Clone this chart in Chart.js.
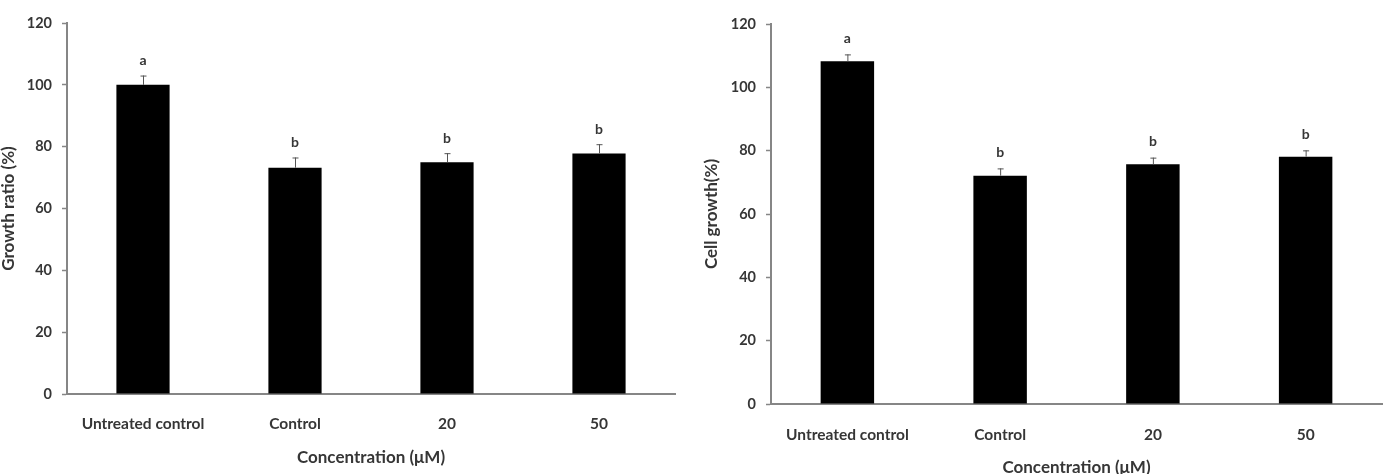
<!DOCTYPE html>
<html>
<head>
<meta charset="utf-8">
<script src="https://cdn.jsdelivr.net/npm/chart.js@4/dist/chart.umd.min.js"></script>
<style>
  html, body { margin: 0; padding: 0; background: #fff; }
  body { width: 1385px; height: 474px; position: relative; overflow: hidden; }
  canvas { position: absolute; top: 0; }
  #growthChart { left: 0; }
  #cellChart { left: 690px; }
</style>
</head>
<body>
<canvas id="growthChart" width="690" height="474"></canvas>
<canvas id="cellChart" width="695" height="474"></canvas>
<script>
"use strict";

const categories = ['Untreated control', 'Control', '20', '50'];

const growthRatio = [100, 73.2, 75, 77.8];
const growthRatioErr = [3, 3.3, 2.9, 3];
const growthLetters = ['a', 'b', 'b', 'b'];

const cellGrowth = [108.2, 72.1, 75.7, 78.1];
const cellGrowthErr = [2.2, 2.3, 2.1, 2];
const cellLetters = ['a', 'b', 'b', 'b'];

const yTicks = [0, 20, 40, 60, 80, 100, 120];

const textColor = '#363636';
const axisColor = '#868686';
const fontFamily = 'Lato, "Open Sans", sans-serif';

Chart.defaults.font.family = fontFamily;
Chart.defaults.color = textColor;

// error bars + significance letters on top of each bar
const errorBarPlugin = {
	id: 'errorBars',
	afterDatasetsDraw(chart, args, opts) {
		const ctx = chart.ctx;
		const meta = chart.getDatasetMeta(0);
		const yScale = chart.scales.y;
		const values = chart.data.datasets[0].data;
		ctx.save();
		meta.data.forEach((bar, i) => {
			const x = bar.x;
			const top = yScale.getPixelForValue(values[i] + opts.errors[i]);
			ctx.strokeStyle = '#555';
			ctx.lineWidth = 1;
			ctx.beginPath();
			ctx.moveTo(x + 0.5, bar.y);
			ctx.lineTo(x + 0.5, top);
			ctx.moveTo(x - 2.5, top + 0.5);
			ctx.lineTo(x + 3.5, top + 0.5);
			ctx.stroke();

			ctx.fillStyle = textColor;
			ctx.font = 'bold 14px ' + fontFamily;
			ctx.textAlign = 'center';
			ctx.textBaseline = 'middle';
			ctx.fillText(opts.letters[i], x, top - opts.letterGap);
		});
		ctx.restore();
	}
};

function makeChart(canvasId, values, errors, letters, yTitle, lay) {
	const ctx = document.getElementById(canvasId).getContext('2d');
	return new Chart(ctx, {
		type: 'bar',
		data: {
			labels: categories,
			datasets: [{
				data: values,
				backgroundColor: '#000',
				borderWidth: 0,
				barPercentage: 0.35,
				categoryPercentage: 1.0
			}]
		},
		options: {
			responsive: false,
			animation: false,
			layout: { padding: { top: lay.top, right: lay.right, bottom: 0, left: 0 } },
			plugins: {
				legend: { display: false },
				tooltip: { enabled: false },
				errorBars: { errors: errors, letters: letters, letterGap: lay.letterGap }
			},
			scales: {
				x: {
					grid: { display: false, drawTicks: false },
					border: { display: true, color: axisColor, width: 2 },
					ticks: {
						autoSkip: false,
						maxRotation: 0,
						padding: lay.xTickPad,
						color: textColor,
						font: { size: 15.5, weight: 'bold' }
					},
					title: {
						display: true,
						text: 'Concentration (\u03bcM)',
						color: textColor,
						font: { size: 17, weight: 'bold', lineHeight: lay.xTitleLH },
						padding: { top: 0, bottom: lay.xTitlePad }
					},
					afterFit(scale) { scale.height = lay.xHeight; }
				},
				y: {
					min: 0,
					max: 120,
					afterBuildTicks(scale) { scale.ticks = yTicks.map(v => ({ value: v })); },
					grid: {
						drawOnChartArea: false,
						drawTicks: true,
						tickLength: 5,
						tickColor: axisColor,
						tickWidth: 1.5
					},
					border: { display: true, color: axisColor, width: 2 },
					ticks: {
						padding: lay.yTickPad,
						color: textColor,
						font: { size: 14.5, weight: 'bold' }
					},
					title: {
						display: true,
						text: yTitle,
						color: textColor,
						font: { size: 17, weight: 'bold', lineHeight: 1 },
						padding: { top: lay.yTitlePad, bottom: 0 }
					},
					afterFit(scale) { scale.width = lay.yWidth; }
				}
			}
		},
		plugins: [errorBarPlugin]
	});
}

makeChart('growthChart', growthRatio, growthRatioErr, growthLetters, 'Growth ratio (%)', {
	top: 23, right: 15, xHeight: 80, yWidth: 67,
	xTickPad: 21, xTitleLH: 1.2, xTitlePad: 6,
	yTickPad: 10, yTitlePad: 0, letterGap: 15
});

makeChart('cellChart', cellGrowth, cellGrowthErr, cellLetters, 'Cell growth(%)', {
	top: 24, right: 3, xHeight: 70, yWidth: 81,
	xTickPad: 22, xTitleLH: 0.8, xTitlePad: 0,
	yTickPad: 10, yTitlePad: 13, letterGap: 16
});
</script>
</body>
</html>
